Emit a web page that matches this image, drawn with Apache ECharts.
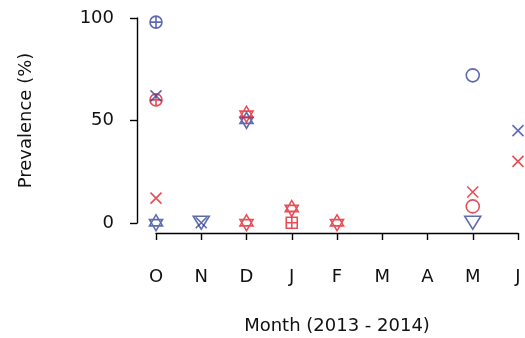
<!DOCTYPE html>
<html>
<head>
<meta charset="utf-8">
<script src="https://cdn.jsdelivr.net/npm/echarts@6/dist/echarts.min.js"></script>
<style>html,body{margin:0;padding:0;background:#fff}#c{width:525px;height:338px}</style>
</head>
<body>
<div id="c"></div>
<script>
var months = ['O','N','D','J','F','M','A','M','J'];
var yTicks = [0, 50, 100];

var blueCirclePlus = [98, null, null, null, null, null, null, null, null];
var redCirclePlus  = [60, null, null, null, null, null, null, null, null];
var blueCross      = [62, 0, null, null, null, null, null, null, 45];
var redCross       = [12, null, null, null, null, null, null, 15, 30];
var blueStar       = [0, null, 50, null, null, null, null, null, null];
var redStarA       = [null, null, 53, 7, 0, null, null, null, null];
var redStarB       = [null, null, 0, null, null, null, null, null, null];
var blueCircle     = [null, null, null, null, null, null, null, 72, null];
var redCircle      = [null, null, null, null, null, null, null, 8, null];
var blueTriDown    = [null, 0, null, null, null, null, null, 0, null];
var redSquarePlus  = [null, null, null, 0, null, null, null, null, null];

var BLUE = '#34469E', RED = '#E4202A', INK = '#111';
var SYM = {
  circlePlus: 'path://M0,5A5,5 0 1,1 10,5A5,5 0 1,1 0,5ZM5,0L5,10M0,5L10,5',
  cross: 'path://M0,0L10,10M10,0L0,10',
  star: 'path://M5,0L10,9L0,9ZM0,4L10,4L5,13Z',
  circle: 'path://M0,5A5,5 0 1,1 10,5A5,5 0 1,1 0,5Z',
  triDown: 'path://M0,0L10,0L5,8.2Z',
  squarePlus: 'path://M0,0L10,0L10,10L0,10ZM5,0L5,10M0,5L10,5'
};
function ser(name, data, color, sym, size) {
  return {
    name: name, type: 'scatter', xAxisIndex: 0, yAxisIndex: 0,
    data: data, symbol: SYM[sym], symbolSize: size, symbolKeepAspect: false,
    itemStyle: { color: 'rgba(0,0,0,0)', borderColor: color, borderWidth: 1.6 },
    emphasis: { disabled: true }, silent: true
  };
}

var chart = echarts.init(document.getElementById('c'), null, { renderer: 'canvas' });
chart.setOption({
  animation: false,
  backgroundColor: '#fff',
  textStyle: { fontFamily: 'DejaVu Sans' },
  grid: [
    { left: 156, right: 7, top: 18, bottom: 105, containLabel: false, outerBoundsMode: 'none' },
    { left: 137, width: 1, top: 18, bottom: 115, containLabel: false, outerBoundsMode: 'none' }
  ],
  xAxis: [
    {
      gridIndex: 0, type: 'category', data: months, boundaryGap: false,
      axisLine: { onZero: false, lineStyle: { color: '#000', width: 1.4 } },
      axisTick: { length: 7, lineStyle: { color: '#000', width: 1.4 } },
      axisLabel: { color: INK, fontSize: 18, margin: 35, fontFamily: 'DejaVu Sans' },
      name: 'Month (2013 - 2014)', nameLocation: 'middle', nameGap: 84,
      nameTextStyle: { color: INK, fontSize: 18, fontFamily: 'DejaVu Sans' },
      splitLine: { show: false }
    },
    { gridIndex: 1, type: 'value', show: false }
  ],
  yAxis: [
    { gridIndex: 0, type: 'value', min: -5, max: 100, show: false, splitLine: { show: false } },
    {
      gridIndex: 1, type: 'value', min: yTicks[0], max: yTicks[yTicks.length - 1], interval: 50,
      axisLine: { show: true, lineStyle: { color: '#000', width: 1.4 } },
      axisTick: { show: true, length: 7, lineStyle: { color: '#000', width: 1.4 } },
      axisLabel: { color: INK, fontSize: 18, margin: 23, fontFamily: 'DejaVu Sans' },
      splitLine: { show: false },
      name: 'Prevalence (%)', nameLocation: 'middle', nameGap: 102,
      nameTextStyle: { color: INK, fontSize: 18, fontFamily: 'DejaVu Sans' }
    }
  ],
  series: [
    ser('blueCirclePlus', blueCirclePlus, BLUE, 'circlePlus', 12),
    ser('redCirclePlus', redCirclePlus, RED, 'circlePlus', 12),
    ser('blueCross', blueCross, BLUE, 'cross', 11),
    ser('redCross', redCross, RED, 'cross', 11),
    ser('blueStar', blueStar, BLUE, 'star', [13, 16]),
    ser('redStarA', redStarA, RED, 'star', [13, 16]),
    ser('redStarB', redStarB, RED, 'star', [13, 16]),
    ser('blueCircle', blueCircle, BLUE, 'circle', 13),
    ser('redCircle', redCircle, RED, 'circle', 13),
    ser('blueTriDown', blueTriDown, BLUE, 'triDown', [16, 13]),
    ser('redSquarePlus', redSquarePlus, RED, 'squarePlus', 11)
  ]
});
</script>
</body>
</html>
